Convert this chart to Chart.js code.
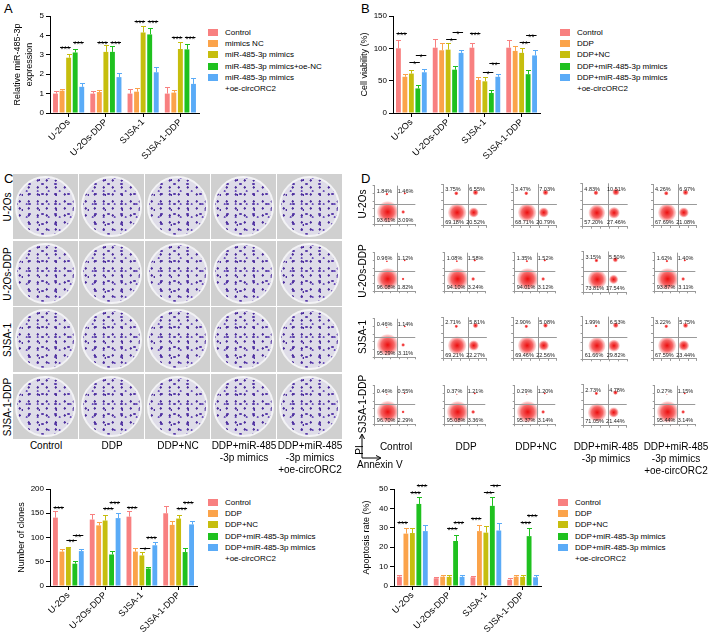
<!DOCTYPE html>
<html>
<head>
<meta charset="utf-8">
<script src="https://cdn.jsdelivr.net/npm/chart.js@4.4.1/dist/chart.umd.min.js"></script>
<style>
  body { margin: 0; background: #fff; font-family: "Liberation Sans", Arial, sans-serif; color: #000; }
  #fig { position: relative; width: 709px; height: 638px; overflow: hidden; }
  .abs { position: absolute; }
  .panel { position: absolute; font-size: 13px; }
  .rot { position: absolute; white-space: nowrap; font-size: 10px; transform: translate(-50%, -50%) rotate(-90deg); }
  .col { position: absolute; width: 80px; margin-left: -40px; text-align: center; font-size: 10px; line-height: 12px; }
  .leg { position: absolute; font-size: 8px; line-height: 11px; white-space: nowrap; }
  .leg span { position: absolute; left: 0; top: 2px; width: 10px; height: 7px; }
  .leg div { position: absolute; left: 17px; top: 0; }
  .cell { position: absolute; width: 65px; height: 65px; background: #d0d0d0; }
  .dish { position: absolute; left: 2px; top: 2px; width: 61px; height: 61px; border-radius: 50%;
          border: 2px solid #f3f3f5; box-sizing: border-box;
          background:
            radial-gradient(circle at 30% 35%, #4c2d9c 0 0.9px, transparent 1.4px) 0 0 / 9px 7px,
            radial-gradient(circle at 60% 70%, #6d52ba 0 0.8px, transparent 1.3px) 3px 4px / 11px 13px,
            radial-gradient(circle at 50% 50%, #5a3caa 0 1px, transparent 1.5px) 6px 1px / 13px 10px,
            radial-gradient(circle at 20% 80%, #5030a0 0 0.7px, transparent 1.2px) 2px 5px / 17px 15px,
            #dedce8; }
  canvas { position: absolute; }
</style>
</head>
<body>
<div id="fig">
  <div class="panel" style="left:4px;top:1px">A</div>
  <div class="panel" style="left:361px;top:1px">B</div>
  <div class="panel" style="left:4px;top:171px">C</div>
  <div class="panel" style="left:361px;top:171px">D</div>

  <canvas id="chartA" width="202" height="172" style="left:0;top:0"></canvas>
  <canvas id="chartB" width="188" height="172" style="left:355px;top:0"></canvas>
  <canvas id="chartC" width="200" height="165" style="left:0;top:473px"></canvas>
  <canvas id="chartD" width="189" height="165" style="left:355px;top:473px"></canvas>

  <div id="legA" class="abs"></div>
  <div id="legB" class="abs"></div>
  <div id="legC" class="abs"></div>
  <div id="legD" class="abs"></div>

  <div id="colonies" class="abs"></div>
  <div id="flow" class="abs"></div>
  <div id="labels" class="abs"></div>

  <svg class="abs" style="left:355px;top:428px" width="40" height="45">
    <path d="M7 30 L7 7 M4.5 11 L7 6 L9.5 11 M7 30 L25 30 M21 27.5 L26 30 L21 32.5" stroke="#000" stroke-width="1" fill="none"/>
  </svg>
  <div class="rot" style="left:359px;top:450px">PI</div>
  <div class="abs" style="left:357px;top:459px;font-size:10px">Annexin V</div>
</div>

<script>
const cellLines = ['U-2Os', 'U-2Os-DDP', 'SJSA-1', 'SJSA-1-DDP'];
const barColors = ['#f88080', '#fba34a', '#c6be0e', '#1fc11f', '#5aabf7'];

const mimicGroups = ['Control', 'mimics NC', 'miR-485-3p mimics', 'miR-485-3p mimics+oe-NC', 'miR-485-3p mimics\n+oe-circORC2'];
const ddpGroups = ['Control', 'DDP', 'DDP+NC', 'DDP+miR-485-3p mimics', 'DDP+miR-485-3p mimics\n+oe-circORC2'];
const treatLabels = ['Control', 'DDP', 'DDP+NC', 'DDP+miR-485\n-3p mimics', 'DDP+miR-485\n-3p mimics\n+oe-circORC2'];

// A - relative miR-485-3p expression (one row per group, one value per cell line)
const exprMean = [
  [1.0, 1.0, 1.0, 1.0],
  [1.15, 1.08, 1.1, 1.05],
  [2.85, 3.15, 4.15, 3.3],
  [3.12, 3.15, 4.05, 3.28],
  [1.35, 1.85, 2.1, 1.5]
];
const exprErr = [
  [0.15, 0.12, 0.25, 0.32],
  [0.07, 0.1, 0.18, 0.15],
  [0.18, 0.35, 0.35, 0.35],
  [0.2, 0.28, 0.35, 0.3],
  [0.18, 0.2, 0.25, 0.3]
];
// [cell line, from group, to group, height, stars]
const exprSig = [
  [0, 1, 2, 3.42, '***'], [0, 3, 4, 3.68, '***'],
  [1, 1, 2, 3.68, '***'], [1, 3, 4, 3.68, '***'],
  [2, 1, 2, 4.76, '***'], [2, 3, 4, 4.76, '***'],
  [3, 1, 2, 3.93, '***'], [3, 3, 4, 3.93, '***']
];

// B - cell viability (%)
const viabMean = [
  [100, 101, 101, 101],
  [56, 97, 51, 96],
  [61, 98, 49, 93],
  [38, 67, 31, 60],
  [63, 93, 56, 89]
];
const viabErr = [
  [13, 14, 8, 12],
  [5, 11, 5, 7],
  [6, 10, 7, 7],
  [5, 5, 4, 6],
  [5, 4, 5, 8]
];
const viabSig = [
  [0, 0, 1, 123, '***'], [0, 2, 3, 79, '*'], [0, 3, 4, 90, '*'],
  [1, 2, 3, 115, '*'], [1, 3, 4, 125, '*'],
  [2, 0, 1, 123, '***'], [2, 2, 3, 63, '*'], [2, 3, 4, 77, '**'],
  [3, 2, 3, 110, '**'], [3, 3, 4, 121, '**']
];

// C - number of clones
const cloneMean = [
  [141, 137, 143, 150],
  [71, 125, 71, 126],
  [79, 135, 63, 139],
  [46, 65, 36, 70],
  [72, 140, 84, 127]
];
const cloneErr = [
  [13, 12, 12, 15],
  [6, 7, 7, 8],
  [2, 11, 7, 8],
  [6, 7, 4, 8],
  [4, 11, 7, 8]
];
const cloneSig = [
  [0, 0, 1, 163, '***'], [0, 2, 3, 95, '**'], [0, 3, 4, 105, '**'],
  [1, 2, 3, 161, '***'], [1, 3, 4, 174, '***'],
  [2, 0, 1, 163, '***'], [2, 2, 3, 78, '*'], [2, 3, 4, 102, '***'],
  [3, 2, 3, 161, '***'], [3, 3, 4, 174, '***']
];

// D - apoptosis rate (%)
const apopMean = [
  [4.8, 4.0, 4.5, 3.2],
  [27.0, 4.8, 28.3, 4.8],
  [27.3, 4.7, 27.5, 4.7],
  [42.3, 23.2, 41.3, 25.7],
  [28.3, 4.7, 28.6, 4.5]
];
const apopErr = [
  [0.8, 0.8, 0.8, 0.8],
  [3.0, 0.8, 3.0, 1.0],
  [2.5, 0.8, 3.2, 1.0],
  [3.8, 3.0, 4.8, 4.2],
  [3.0, 1.2, 4.0, 1.3]
];
const apopSig = [
  [0, 0, 1, 33, '***'], [0, 2, 3, 48.3, '***'], [0, 3, 4, 52, '***'],
  [1, 2, 3, 29.7, '***'], [1, 3, 4, 33, '***'],
  [2, 0, 1, 34.9, '***'], [2, 2, 3, 48.3, '**'], [2, 3, 4, 52, '**'],
  [3, 2, 3, 33, '***'], [3, 3, 4, 36.6, '***']
];

// D - flow cytometry quadrant percentages (rows = cell lines, cols = treatments)
const flowUL = [
  [1.84, 3.75, 3.47, 4.83, 4.26],
  [0.96, 1.08, 1.35, 3.15, 1.62],
  [0.46, 2.71, 2.90, 1.99, 3.22],
  [0.46, 0.37, 0.29, 2.73, 0.27]
];
const flowUR = [
  [1.46, 6.55, 7.03, 10.51, 6.97],
  [1.12, 1.58, 1.52, 5.50, 1.40],
  [1.14, 5.81, 5.08, 6.53, 5.75],
  [0.55, 1.21, 1.20, 4.78, 1.15]
];
const flowLL = [
  [93.61, 69.18, 68.71, 57.20, 67.69],
  [96.08, 94.10, 94.01, 73.81, 93.87],
  [95.29, 69.21, 69.46, 61.66, 67.59],
  [96.70, 95.08, 95.37, 71.05, 95.44]
];
const flowLR = [
  [3.09, 20.52, 20.79, 27.46, 21.08],
  [1.82, 3.24, 3.12, 17.54, 3.11],
  [3.11, 22.27, 22.56, 29.82, 23.44],
  [2.29, 3.36, 3.14, 21.44, 3.14]
];

Chart.defaults.font.family = '"Liberation Sans", Arial, sans-serif';
Chart.defaults.color = '#000';

const errorBars = {
  id: 'errorBars',
  afterDatasetsDraw(chart) {
    const { ctx } = chart;
    const y = chart.scales.y;
    ctx.save();
    ctx.lineWidth = 1;
    chart.data.datasets.forEach((ds, i) => {
      chart.getDatasetMeta(i).data.forEach((bar, j) => {
        const top = Math.round(y.getPixelForValue(ds.data[j] + ds.errors[j])) + 0.5;
        const x = Math.round(bar.x) + 0.5;
        ctx.strokeStyle = ds.backgroundColor;
        ctx.beginPath();
        ctx.moveTo(x, bar.y);
        ctx.lineTo(x, top);
        ctx.moveTo(x - 2.5, top);
        ctx.lineTo(x + 2.5, top);
        ctx.stroke();
      });
    });
    ctx.restore();
  }
};

const sigBrackets = {
  id: 'sig',
  afterDatasetsDraw(chart, args, opts) {
    const { ctx } = chart;
    const y = chart.scales.y;
    ctx.save();
    ctx.strokeStyle = '#000';
    ctx.fillStyle = '#000';
    ctx.lineWidth = 1;
    ctx.font = '8.5px "Liberation Sans", Arial, sans-serif';
    ctx.textAlign = 'center';
    ctx.textBaseline = 'alphabetic';
    (opts.items || []).forEach(([cat, from, to, val, stars]) => {
      const x1 = chart.getDatasetMeta(from).data[cat].x;
      const x2 = chart.getDatasetMeta(to).data[cat].x;
      const py = Math.round(y.getPixelForValue(val)) + 0.5;
      ctx.beginPath();
      ctx.moveTo(x1 - 2, py);
      ctx.lineTo(x2 + 2, py);
      ctx.stroke();
      ctx.fillText(stars, (x1 + x2) / 2, py + 4.5);
    });
    ctx.restore();
  }
};

function makeBar(id, cfg) {
  const datasets = cfg.groups.map((g, i) => ({
    label: g,
    data: cfg.mean[i],
    errors: cfg.err[i],
    backgroundColor: barColors[i],
    borderWidth: 0,
    barPercentage: 0.75,
    categoryPercentage: 0.88
  }));
  return new Chart(document.getElementById(id), {
    type: 'bar',
    data: { labels: cellLines, datasets },
    options: {
      responsive: false,
      animation: false,
      devicePixelRatio: 1,
      layout: { padding: cfg.pad },
      plugins: { legend: { display: false }, tooltip: { enabled: false }, sig: { items: cfg.sig } },
      scales: {
        x: {
          grid: { drawOnChartArea: false, offset: false, tickLength: 4, color: '#000' },
          border: { color: '#000' },
          ticks: { maxRotation: 45, minRotation: 45, font: { size: 9 }, padding: 0, autoSkip: false },
          afterFit: s => { s.height = cfg.xh; }
        },
        y: {
          min: 0, max: cfg.max,
          ticks: { stepSize: cfg.step, font: { size: 8 }, padding: 2 },
          grid: { drawOnChartArea: false, tickLength: 4, color: '#000' },
          border: { color: '#000' },
          title: { display: true, text: cfg.title, font: { size: 9, lineHeight: 1.33 }, padding: { top: 4, bottom: 2 } },
          afterFit: s => { s.width = cfg.yw; }
        }
      }
    },
    plugins: [errorBars, sigBrackets]
  });
}

makeBar('chartA', { groups: mimicGroups, mean: exprMean, err: exprErr, sig: exprSig, max: 5, step: 1,
  title: ['Relative miR-485-3p', 'expression'], pad: { left: 8, right: 3, top: 16, bottom: 0 }, yw: 42, xh: 59 });
makeBar('chartB', { groups: ddpGroups, mean: viabMean, err: viabErr, sig: viabSig, max: 150, step: 50,
  title: 'Cell viability (%)', pad: { left: 0, right: 3, top: 16, bottom: 0 }, yw: 38, xh: 59 });
makeBar('chartC', { groups: ddpGroups, mean: cloneMean, err: cloneErr, sig: cloneSig, max: 200, step: 50,
  title: 'Number of clones', pad: { left: 12, right: 3, top: 16, bottom: 0 }, yw: 38, xh: 52 });
makeBar('chartD', { groups: ddpGroups, mean: apopMean, err: apopErr, sig: apopSig, max: 50, step: 10,
  title: 'Apoptosis rate (%)', pad: { left: 2, right: 3, top: 16, bottom: 0 }, yw: 37, xh: 52 });

function legend(id, groups, left, top) {
  const box = document.getElementById(id);
  groups.forEach((g, i) => {
    const row = document.createElement('div');
    row.className = 'leg';
    row.style.left = left + 'px';
    row.style.top = (top + i * 11.2) + 'px';
    row.innerHTML = `<span style="background:${barColors[i]}"></span><div>${g.replace('\n', '<br>')}</div>`;
    box.appendChild(row);
  });
}
legend('legA', mimicGroups, 208, 27);
legend('legB', ddpGroups, 560, 27);
legend('legC', ddpGroups, 208, 497);
legend('legD', ddpGroups, 558, 497);

// C - colony plates (photographs, shown as plates)
const colonies = document.getElementById('colonies');
cellLines.forEach((line, r) => {
  treatLabels.forEach((t, c) => {
    const cell = document.createElement('div');
    cell.className = 'cell';
    cell.style.left = (13 + c * 66) + 'px';
    cell.style.top = (174 + r * 66.5) + 'px';
    cell.innerHTML = '<div class="dish"></div>';
    colonies.appendChild(cell);
  });
});

// row and column labels for C and D
const labels = document.getElementById('labels');
function addLabel(cls, x, y, text) {
  const d = document.createElement('div');
  d.className = cls;
  d.style.left = x + 'px';
  d.style.top = y + 'px';
  d.innerHTML = text.replace(/\n/g, '<br>');
  labels.appendChild(d);
}
cellLines.forEach((line, r) => {
  addLabel('rot', 7, 207 + r * 66.5, line);
  addLabel('rot', 362, 204 + r * 66.5, line);
});
treatLabels.forEach((t, c) => {
  addLabel('col', 46 + c * 66, 440, t);
  addLabel('col', 396 + c * 70, 441, t);
});

// D - flow cytometry quadrant plots
const gate = { annexin: 2.8, pi: 2.6 };
const quadCentres = [[1.5, 3.9], [3.7, 4.0], [1.6, 1.6], [3.5, 1.6]]; // UL, UR, LL, LR
const rowTops = [175, 242, 308, 375];

const quadrants = {
  id: 'quadrants',
  afterDatasetsDraw(chart, args, opts) {
    const { ctx, chartArea: a, scales: { x, y } } = chart;
    const gx = Math.round(x.getPixelForValue(gate.annexin)) + 0.5;
    const gy = Math.round(y.getPixelForValue(gate.pi)) + 0.5;
    ctx.save();
    ctx.strokeStyle = '#9a9a9a';
    ctx.lineWidth = 1;
    ctx.beginPath();
    ctx.moveTo(gx, a.top); ctx.lineTo(gx, a.bottom);
    ctx.moveTo(a.left, gy); ctx.lineTo(a.right, gy);
    ctx.stroke();
    ctx.fillStyle = '#222';
    ctx.font = '5.5px "Liberation Sans", Arial, sans-serif';
    const v = opts.values.map(p => p.toFixed(2) + '%');
    ctx.textBaseline = 'top';
    ctx.textAlign = 'left';  ctx.fillText(v[0], a.left + 2, a.top + 3);
    ctx.textAlign = 'right'; ctx.fillText(v[1], a.right - 2, a.top + 3);
    ctx.textBaseline = 'bottom';
    ctx.textAlign = 'left';  ctx.fillText(v[2], a.left + 2, a.bottom - 1);
    ctx.textAlign = 'right'; ctx.fillText(v[3], a.right - 2, a.bottom - 1);
    ctx.restore();
  }
};

function cloudFill(context) {
  const fallback = 'rgba(240,20,20,0.5)';
  const raw = context.raw;
  const sc = context.chart.scales;
  if (!raw || !sc.x || !sc.y) return fallback;
  const x = sc.x.getPixelForValue(raw.x);
  const y = sc.y.getPixelForValue(raw.y);
  const r = Math.max(raw.r, 1);
  if (!isFinite(x) || !isFinite(y)) return fallback;
  const g = context.chart.ctx.createRadialGradient(x, y, 0, x, y, r);
  g.addColorStop(0, 'rgba(235,0,0,0.95)');
  g.addColorStop(0.6, 'rgba(240,20,20,0.65)');
  g.addColorStop(1, 'rgba(245,60,60,0.12)');
  return g;
}

const flow = document.getElementById('flow');
cellLines.forEach((line, r) => {
  treatLabels.forEach((t, c) => {
    const cv = document.createElement('canvas');
    cv.width = 62; cv.height = 60;
    cv.style.left = (364 + c * 70) + 'px';
    cv.style.top = rowTops[r] + 'px';
    flow.appendChild(cv);
    const values = [flowUL[r][c], flowUR[r][c], flowLL[r][c], flowLR[r][c]];
    new Chart(cv, {
      type: 'bubble',
      data: {
        datasets: [{
          data: values.map((p, k) => ({ x: quadCentres[k][0], y: quadCentres[k][1], r: 1.1 * Math.sqrt(p) })),
          backgroundColor: cloudFill,
          borderWidth: 0
        }]
      },
      options: {
        responsive: false,
        animation: false,
        devicePixelRatio: 1,
        layout: { padding: { right: 1 } },
        plugins: { legend: { display: false }, tooltip: { enabled: false }, quadrants: { values } },
        scales: {
          x: { min: 0, max: 5, ticks: { display: false, stepSize: 1 },
               grid: { drawOnChartArea: false, tickLength: 2, color: '#999' }, border: { color: '#999' },
               afterFit: s => { s.height = 3; } },
          y: { min: 0, max: 5, ticks: { display: false, stepSize: 1 },
               grid: { drawOnChartArea: false, tickLength: 2, color: '#999' }, border: { color: '#999' },
               afterFit: s => { s.width = 3; } }
        }
      },
      plugins: [quadrants]
    });
  });
});
</script>
</body>
</html>
